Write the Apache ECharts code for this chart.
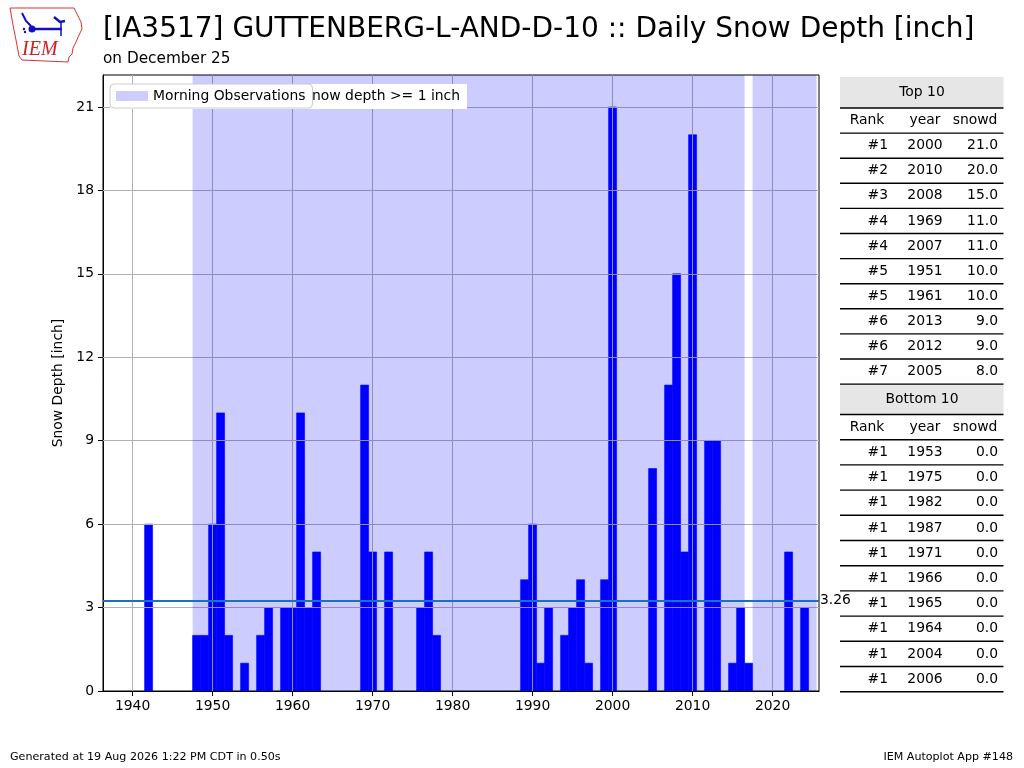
<!DOCTYPE html>
<html><head><meta charset="utf-8">
<script src="https://cdn.jsdelivr.net/npm/echarts@6/dist/echarts.min.js"></script>
<style>html,body{margin:0;padding:0;background:#fff}#c{width:1024px;height:768px}</style>
</head><body><div id="c"></div>
<script>
// ---- data ----
const years  = [1942,1948,1949,1950,1951,1952,1953,1954,1956,1957,1959,1960,1961,1962,1963,1964,1965,1966,
                1969,1970,1971,1972,1975,1976,1977,1978,1982,1987,1989,1990,1991,1992,1994,1995,1996,1997,1999,2000,
                2004,2005,2006,2007,2008,2009,2010,2012,2013,2015,2016,2017,2022,2024];
const depths = [6,2,2,6,10,2,0,1,2,3,3,3,10,3,5,0,0,0,
                11,5,0,5,0,3,5,2,0,0,4,6,1,3,2,3,4,1,4,21,
                0,8,0,11,15,5,20,9,9,1,3,1,5,3];
const morningSpans = [[1947.5,2016.5],[2017.5,2025.5]];
const meanValue = 3.26;
const xTicks = [1940,1950,1960,1970,1980,1990,2000,2010,2020];
const yTicks = [0,3,6,9,12,15,18,21];
const topRank = ['#1','#2','#3','#4','#4','#5','#5','#6','#6','#7'];
const topYear = ['2000','2010','2008','1969','2007','1951','1961','2013','2012','2005'];
const topVal  = ['21.0','20.0','15.0','11.0','11.0','10.0','10.0','9.0','9.0','8.0'];
const botRank = ['#1','#1','#1','#1','#1','#1','#1','#1','#1','#1'];
const botYear = ['1953','1975','1982','1987','1971','1966','1965','1964','2004','2006'];
const botVal  = ['0.0','0.0','0.0','0.0','0.0','0.0','0.0','0.0','0.0','0.0'];
const titleText = '[IA3517] GUTTENBERG-L-AND-D-10 :: Daily Snow Depth [inch]';
const subText = 'on December 25';
const countText = '37/70 (52.9%) years with snow depth >= 1 inch';
const footLeft = 'Generated at 19 Aug 2026 1:22 PM CDT in 0.50s';
const footRight = 'IEM Autoplot App #148';

const FONT = 'DejaVu Sans';
const F10 = 13.9;
const chart = echarts.init(document.getElementById('c'), null, {renderer:'canvas'});

// ---- table graphics ----
const tbl = [];
function txt(x,y,s,align,size,extra){
  tbl.push(Object.assign({type:'text', x:x, y:y, z:5, style:{text:s, fill:'#000', font: (size||F10)+'px "'+FONT+'"', textAlign:align||'left', textVerticalAlign:'middle'}}, extra||{}));
}
function hline(y){
  tbl.push({type:'line', z:5, shape:{x1:840,y1:y,x2:1003.5,y2:y}, style:{stroke:'#000', lineWidth:1.4}});
}
function table(headY, headTitle, rowH, ranks, yrs, vals){
  tbl.push({type:'rect', z:4, shape:{x:840,y:headY,width:163.5,height:30.5}, style:{fill:'#e6e6e6'}});
  txt(922, headY+15.5, headTitle, 'center');
  const y0 = headY + 31;
  for (let i=0;i<=11;i++) hline(y0 + i*rowH);
  const c0 = y0 + rowH/2;
  txt(867, c0, 'Rank', 'center'); txt(925, c0, 'year', 'center'); txt(975, c0, 'snowd', 'center');
  for (let i=0;i<ranks.length;i++){
    const cy = c0 + (i+1)*rowH;
    txt(888, cy, ranks[i], 'right'); txt(925, cy, yrs[i], 'center'); txt(998, cy, vals[i], 'right');
  }
}
table(77, 'Top 10', 25.1, topRank, topYear, topVal);
table(383.5, 'Bottom 10', 25.2, botRank, botYear, botVal);

// ---- logo ----
const logo = [
  {type:'polygon', z:5, shape:{points:[[10,8],[74,8],[77,14],[81,22],[82,29],[79,35],[76,42],[73,48],[72,54],[69,57],[68,62],[22,60],[19,56],[16,40],[13,25]]},
   style:{fill:'none', stroke:'#e03030', lineWidth:1}},
  {type:'line', z:5, shape:{x1:32,y1:29,x2:62,y2:29}, style:{stroke:'#1010c0', lineWidth:2.5}},
  {type:'circle', z:5, shape:{cx:32,cy:29,r:3.5}, style:{fill:'#1010c0'}},
  {type:'polyline', z:5, shape:{points:[[22,13],[26,21],[31,26]]}, style:{stroke:'#1010c0', fill:'none', lineWidth:2}},
  {type:'polyline', z:5, shape:{points:[[54,17],[60,22],[65,21]]}, style:{stroke:'#1010c0', fill:'none', lineWidth:2.5}},
  {type:'line', z:5, shape:{x1:61,y1:22,x2:61,y2:36}, style:{stroke:'#1010c0', lineWidth:1.5}},
  {type:'circle', z:5, shape:{cx:24,cy:29,r:1.2}, style:{fill:'#1010c0'}},
  {type:'circle', z:5, shape:{cx:25,cy:32,r:1.2}, style:{fill:'#1010c0'}},
  {type:'text', z:5, x:22, y:50, style:{text:'IEM', fill:'#d02020', font:'italic 20px "Liberation Serif"', textVerticalAlign:'middle'}}
];

const graphics = [].concat(tbl, logo, [
  {type:'text', x:103, y:30, z:5, style:{text:titleText, fill:'#000', font:'28px "'+FONT+'"', textVerticalAlign:'middle'}},
  {type:'text', x:103, y:59.5, z:5, style:{text:subText, fill:'#000', font:'15.3px "'+FONT+'"', textVerticalAlign:'middle'}},
  {type:'text', x:10, y:757, z:5, style:{text:footLeft, fill:'#000', font:'11.1px "'+FONT+'"', textVerticalAlign:'middle'}},
  {type:'text', x:1013, y:757, z:5, style:{text:footRight, fill:'#000', font:'11.1px "'+FONT+'"', textAlign:'right', textVerticalAlign:'middle'}},
  {type:'rect', z:6, shape:{x:110,y:84,width:357,height:25}, style:{fill:'#fff'}},
  {type:'text', z:7, x:460, y:96.5, style:{text:countText, fill:'#000', font:F10+'px "'+FONT+'"', textAlign:'right', textVerticalAlign:'middle'}}
]);

const barData = years.map((y,i)=>[y, depths[i]]);
const gridMarks = xTicks.map(v=>({xAxis:v})).concat(yTicks.filter(v=>v>0).map(v=>({yAxis:v})));

chart.setOption({
  animation:false,
  backgroundColor:'#fff',
  textStyle:{fontFamily:FONT},
  grid:{left:103, right:205, top:75, bottom:77, show:true, borderColor:'#000', borderWidth:1, backgroundColor:'transparent'},
  legend:{
    left:110, top:84, z:20, zlevel:0,
    data:[{name:'Morning Observations', icon:'rect', itemStyle:{color:'rgba(0,0,255,0.2)'}}],
    itemWidth:32, itemHeight:10,
    backgroundColor:'#fff', borderColor:'#cccccc', borderWidth:1, borderRadius:4,
    padding:[5,7,5,6],
    textStyle:{fontSize:F10, color:'#000', fontFamily:FONT},
    selectedMode:false
  },
  xAxis:{
    type:'value', min:1936.3, max:2025.8, z:10,
    axisLine:{show:true, lineStyle:{color:'#000', width:1}},
    axisTick:{show:true, length:5, lineStyle:{color:'#000'}, customValues:xTicks},
    axisLabel:{color:'#000', fontSize:F10, fontFamily:FONT, margin:8, customValues:xTicks, formatter:v=>String(v)},
    splitLine:{show:false}
  },
  yAxis:{
    type:'value', min:0, max:22.15, interval:3,
    name:'Snow Depth [inch]', nameLocation:'middle', nameGap:33, nameRotate:90,
    nameTextStyle:{fontSize:F10, color:'#000', fontFamily:FONT},
    axisLine:{show:true, lineStyle:{color:'#000', width:1}},
    axisTick:{show:true, length:5, lineStyle:{color:'#000'}, customValues:yTicks},
    axisLabel:{color:'#000', fontSize:F10, fontFamily:FONT, margin:9, customValues:yTicks},
    splitLine:{show:false}
  },
  graphic:graphics,
  series:[
    {type:'custom', name:'depth', z:1, data:barData, encode:{x:0,y:1}, silent:true,
     renderItem:function(params, api){
       const x = api.value(0), v = api.value(1);
       if (!v) return null;
       const p0 = api.coord([x-0.5, v]);
       const p1 = api.coord([x+0.5, 0]);
       return {type:'rect', shape:{x:p0[0], y:p0[1], width:p1[0]-p0[0], height:p1[1]-p0[1]},
               style:{fill:'#0000ff', stroke:'#0000ff', lineWidth:0.6}};
     }},
    {type:'line', name:'grid', data:[], z:2, silent:true,
     markLine:{z:2, silent:true, symbol:['none','none'], animation:false, label:{show:false},
       lineStyle:{color:'#b0b0b0', width:1, type:'solid'},
       data:gridMarks}},
    {type:'line', name:'Morning Observations', data:[], z:3, silent:true,
     itemStyle:{color:'rgba(0,0,255,0.2)'}, lineStyle:{color:'rgba(0,0,255,0.2)'},
     markArea:{z:3, silent:true, itemStyle:{color:'rgba(0,0,255,0.2)'},
       data:morningSpans.map(s=>[{xAxis:s[0]},{xAxis:s[1]}])}},
    {type:'line', name:'mean', data:[], z:4, silent:true,
     markLine:{z:4, silent:true, symbol:['none','none'], animation:false,
       lineStyle:{color:'#1f6fbf', width:2, type:'solid'},
       label:{show:true, position:'end', formatter:String(meanValue), color:'#000', fontSize:F10, fontFamily:FONT, distance:1},
       data:[{yAxis:meanValue}]}}
  ]
});
</script></body></html>
